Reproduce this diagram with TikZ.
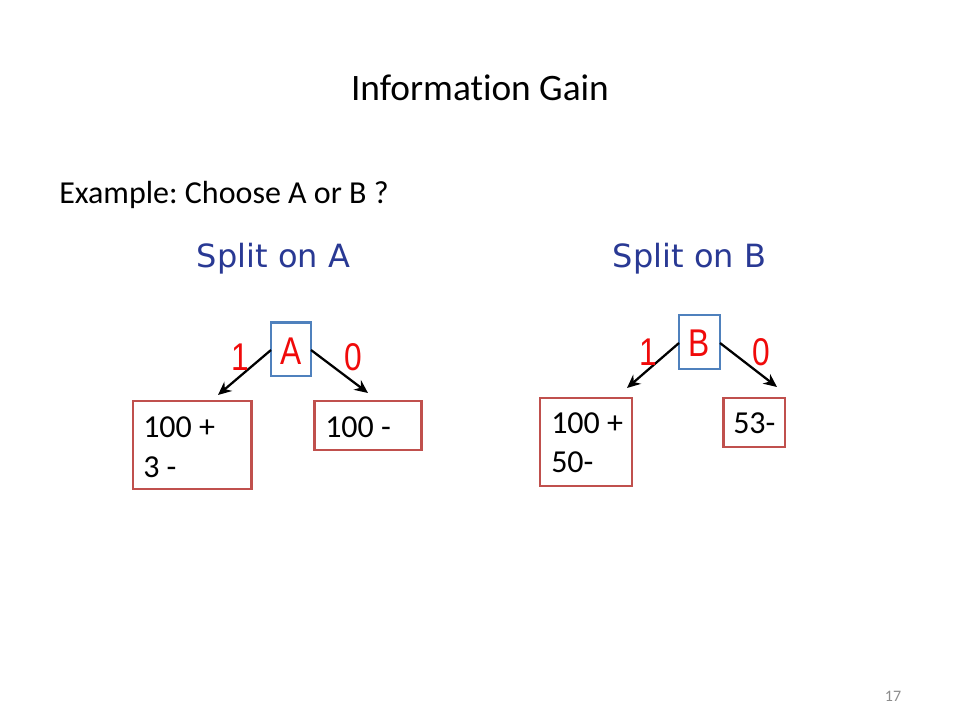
\documentclass[tikz,border=0pt]{standalone}
\usepackage{fontspec}
\usepackage{graphicx}
\setmainfont[Ligatures={NoCommon}]{Carlito}
\newfontfamily\splitfont{DejaVu Sans}
\newfontfamily\narrowfont{Liberation Sans}
\usetikzlibrary{arrows.meta}
\frenchspacing
\definecolor{boxred}{RGB}{192,80,77}
\definecolor{boxblue}{RGB}{79,129,189}
\definecolor{splitblue}{RGB}{41,57,148}
\definecolor{txtred}{RGB}{240,10,10}
\definecolor{pagegray}{RGB}{140,140,140}
\newcommand{\narrowtxt}[1]{\scalebox{0.82}[1]{#1}}
\tikzset{
  leafbox/.style={draw=boxred, line width=2.1pt, line join=miter},
  attrbox/.style={draw=boxblue, line width=2.1pt, line join=miter},
  redlbl/.style={text=txtred, font=\narrowfont\fontsize{29}{29}\selectfont, inner sep=0pt},
  leaftxt/.style={font=\fontsize{24}{30}\selectfont, anchor=base west, inner sep=0pt},
  splittxt/.style={text=splitblue, font=\splitfont\fontsize{24}{24}\selectfont, anchor=base, inner sep=0pt},
  branch/.style={-{Stealth[length=10pt,width=9pt]}, line width=1.7pt, black}
}
\begin{document}
\begin{tikzpicture}[x=0.75pt,y=-0.75pt]
\useasboundingbox[fill=white] (0,0) rectangle (960,720);
% titles
\node[font=\fontsize{28}{28}\selectfont, anchor=base, inner sep=0pt] (title) at (480,101) {Information Gain};
\node[font=\fontsize{24}{24}\selectfont, anchor=base west, inner sep=0pt] (example) at (59,203.3) {Example: Choose A or B ?};
\node[splittxt] (splitA) at (273.5,268) {Split on A};
\node[splittxt] (splitB) at (689.5,268) {Split on B};
% tree A
\draw[attrbox] (271,322.5) rectangle (311,376);
\node[redlbl, anchor=base] (A) at (291,364) {\narrowtxt{A}};
\draw[leafbox] (133,401) rectangle (251.5,489);
\draw[leafbox] (314.5,401) rectangle (421.5,450);
\coordinate (Aleft) at (271,350);
\coordinate (Aright) at (311,350);
\coordinate (LA) at (218,395);
\coordinate (RA) at (368,393);
\draw[branch] (Aleft) -- (LA);
\draw[branch] (Aright) -- (RA);
\node[redlbl, anchor=base] (oneA) at (240.5,370) {\narrowtxt{1}};
\node[redlbl, anchor=base] (zeroA) at (353.5,370) {\narrowtxt{0}};
\node[leaftxt] (la1) at (143,437) {100 +};
\node[leaftxt] (la2) at (143,477) {3 -};
\node[leaftxt] (ra1) at (325,437) {100 -};
% tree B
\draw[attrbox] (679,315) rectangle (720,369);
\node[redlbl, anchor=base] (B) at (699.5,356) {\narrowtxt{B}};
\draw[leafbox] (540,398) rectangle (632,486);
\draw[leafbox] (723.5,398) rectangle (785,447);
\coordinate (Bleft) at (679,343);
\coordinate (Bright) at (720,343);
\coordinate (LB) at (627,388);
\coordinate (RB) at (777,387);
\draw[branch] (Bleft) -- (LB);
\draw[branch] (Bright) -- (RB);
\node[redlbl, anchor=base] (oneB) at (648.5,365) {\narrowtxt{1}};
\node[redlbl, anchor=base] (zeroB) at (761,365) {\narrowtxt{0}};
\node[leaftxt] (lb1) at (551,433) {100 +};
\node[leaftxt] (lb2) at (551,472) {50-};
\node[leaftxt] (rb1) at (733,433) {53-};
% page number
\node[text=pagegray, font=\fontsize{12}{12}\selectfont, anchor=base, inner sep=0pt] (page) at (893,701) {17};
\end{tikzpicture}
\end{document}
